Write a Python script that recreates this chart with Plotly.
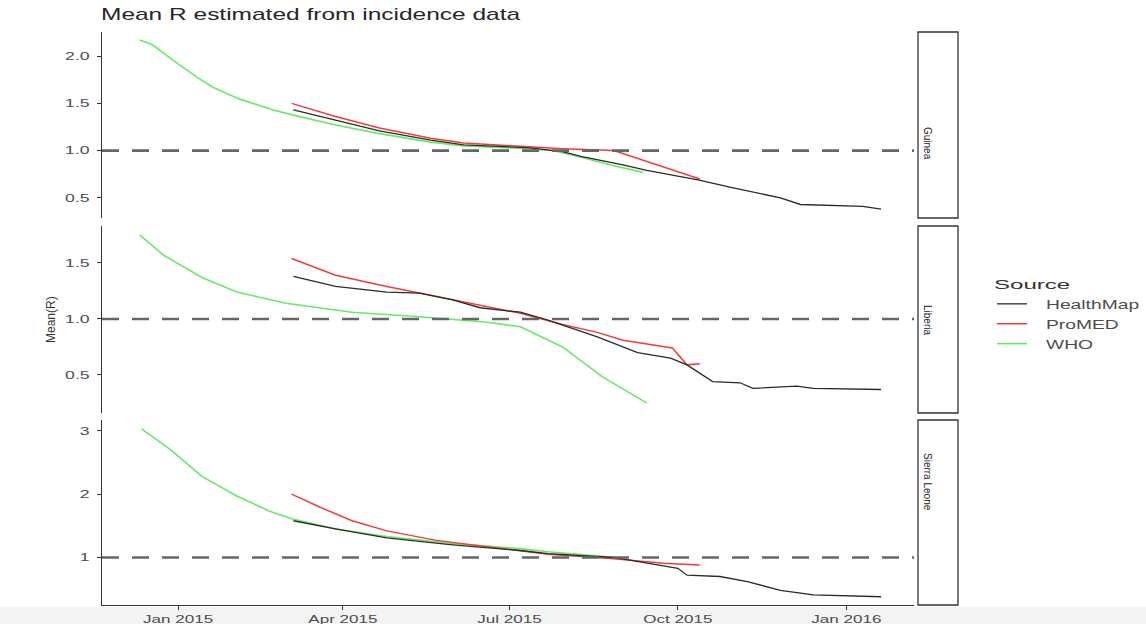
import plotly.graph_objects as go

# ---------------- data ----------------
countries = ["Guinea", "Liberia", "Sierra Leone"]
sources = ["HealthMap", "ProMED", "WHO"]

guinea_who_dates = ["2014-12-11", "2014-12-18", "2014-12-29", "2015-01-11", "2015-01-20", "2015-02-03",
                    "2015-02-22", "2015-03-06", "2015-03-28", "2015-04-21", "2015-05-19", "2015-06-06",
                    "2015-07-12", "2015-07-25", "2015-08-05", "2015-08-27", "2015-09-12"]
guinea_who_vals = [2.17, 2.12, 1.96, 1.78, 1.67, 1.55, 1.43, 1.37, 1.27, 1.18, 1.09, 1.05,
                   1.02, 1.00, 0.95, 0.84, 0.77]

guinea_hm_dates = ["2015-03-05", "2015-03-28", "2015-04-21", "2015-05-19", "2015-06-06", "2015-07-12",
                   "2015-07-30", "2015-08-09", "2015-09-01", "2015-09-14", "2015-10-01", "2015-10-12",
                   "2015-10-30", "2015-11-11", "2015-11-26", "2015-12-07", "2015-12-23", "2016-01-10",
                   "2016-01-20"]
guinea_hm_vals = [1.43, 1.32, 1.21, 1.11, 1.06, 1.03, 0.99, 0.94, 0.85, 0.79, 0.73, 0.69,
                  0.61, 0.56, 0.50, 0.43, 0.42, 0.41, 0.38]

guinea_pm_dates = ["2015-03-04", "2015-03-28", "2015-04-21", "2015-05-19", "2015-06-06", "2015-07-12",
                   "2015-07-30", "2015-08-27", "2015-09-23", "2015-10-13"]
guinea_pm_vals = [1.50, 1.36, 1.24, 1.13, 1.08, 1.04, 1.02, 1.00, 0.83, 0.70]

liberia_who_dates = ["2014-12-11", "2014-12-24", "2015-01-14", "2015-02-02", "2015-03-01", "2015-04-06",
                     "2015-05-13", "2015-06-19", "2015-07-07", "2015-07-30", "2015-08-21", "2015-09-14"]
liberia_who_vals = [1.75, 1.57, 1.37, 1.24, 1.14, 1.06, 1.02, 0.97, 0.93, 0.75, 0.48, 0.25]

liberia_hm_dates = ["2015-03-05", "2015-03-28", "2015-04-25", "2015-05-13", "2015-05-31", "2015-06-15",
                    "2015-07-07", "2015-07-22", "2015-08-18", "2015-09-09", "2015-09-27", "2015-10-06",
                    "2015-10-20", "2015-11-04", "2015-11-11", "2015-12-05", "2015-12-14", "2016-01-20"]
liberia_hm_vals = [1.38, 1.29, 1.24, 1.23, 1.17, 1.10, 1.06, 0.99, 0.84, 0.70, 0.65, 0.59,
                   0.44, 0.43, 0.38, 0.40, 0.38, 0.37]

liberia_pm_dates = ["2015-03-04", "2015-03-28", "2015-04-25", "2015-05-31", "2015-07-07", "2015-07-30",
                    "2015-08-18", "2015-09-01", "2015-09-28", "2015-10-06", "2015-10-13"]
liberia_pm_vals = [1.54, 1.39, 1.29, 1.17, 1.05, 0.95, 0.88, 0.81, 0.74, 0.59, 0.60]

sierra_who_dates = ["2014-12-12", "2014-12-28", "2015-01-14", "2015-02-02", "2015-02-20", "2015-03-04",
                    "2015-03-28", "2015-04-25", "2015-05-31", "2015-07-07", "2015-07-22", "2015-08-27",
                    "2015-09-01"]
sierra_who_vals = [3.03, 2.70, 2.28, 1.97, 1.73, 1.61, 1.45, 1.33, 1.22, 1.14, 1.09, 1.00, 0.99]

sierra_hm_dates = ["2015-03-05", "2015-03-28", "2015-04-25", "2015-05-31", "2015-07-07", "2015-07-22",
                   "2015-08-27", "2015-09-14", "2015-10-01", "2015-10-06", "2015-10-24", "2015-11-08",
                   "2015-11-26", "2015-12-14", "2016-01-01", "2016-01-20"]
sierra_hm_vals = [1.58, 1.45, 1.31, 1.20, 1.11, 1.06, 1.00, 0.91, 0.83, 0.72, 0.70, 0.62,
                  0.48, 0.41, 0.40, 0.38]

sierra_pm_dates = ["2015-03-04", "2015-03-19", "2015-04-06", "2015-04-25", "2015-05-22", "2015-06-19",
                   "2015-07-07", "2015-07-22", "2015-08-27", "2015-09-23", "2015-10-13"]
sierra_pm_vals = [2.00, 1.80, 1.58, 1.42, 1.27, 1.17, 1.10, 1.05, 0.98, 0.91, 0.88]

y_ranges = [[0.287, 2.255], [0.16, 1.83], [0.25, 3.17]]
y_ticks = [[0.5, 1.0, 1.5, 2.0], [0.5, 1.0, 1.5], [1, 2, 3]]
y_ticktext = [["0.5", "1.0", "1.5", "2.0"], ["0.5", "1.0", "1.5"], ["1", "2", "3"]]
x_tickvals = ["2015-01-01", "2015-04-01", "2015-07-01", "2015-10-01", "2016-01-01"]
x_ticktext = ["Jan 2015", "Apr 2015", "Jul 2015", "Oct 2015", "Jan 2016"]
x_range = ["2014-11-20 10:00", "2016-02-07"]

series = {
    "Guinea": {"HealthMap": (guinea_hm_dates, guinea_hm_vals),
               "ProMED": (guinea_pm_dates, guinea_pm_vals),
               "WHO": (guinea_who_dates, guinea_who_vals)},
    "Liberia": {"HealthMap": (liberia_hm_dates, liberia_hm_vals),
                "ProMED": (liberia_pm_dates, liberia_pm_vals),
                "WHO": (liberia_who_dates, liberia_who_vals)},
    "Sierra Leone": {"HealthMap": (sierra_hm_dates, sierra_hm_vals),
                     "ProMED": (sierra_pm_dates, sierra_pm_vals),
                     "WHO": (sierra_who_dates, sierra_who_vals)},
}

colors = {"HealthMap": "#2a2a2a", "ProMED": "#f23c3c", "WHO": "#66ea66"}
widths = {"HealthMap": 1.3, "ProMED": 1.5, "WHO": 1.6}

# ---------------- layout geometry ----------------
W, H = 1146, 624
x_dom = [102 / W, 914 / W]
panel_px = [(32, 218), (226, 413), (420, 605)]
y_doms = [[1 - b / H, 1 - t / H] for t, b in panel_px]

FONT = "Liberation Sans, Arial, sans-serif"
fig = go.Figure()

draw_order = ["WHO", "ProMED", "HealthMap"]
for i, c in enumerate(countries):
    xa = "x" if i == 0 else f"x{i+1}"
    ya = "y" if i == 0 else f"y{i+1}"
    for s in draw_order:
        d, v = series[c][s]
        fig.add_trace(go.Scatter(
            x=d, y=v, mode="lines", name=s, legendgroup=s,
            showlegend=(i == 0), xaxis=xa, yaxis=ya,
            legendrank={"HealthMap": 1, "ProMED": 2, "WHO": 3}[s],
            line=dict(color=colors[s], width=widths[s]),
        ))

layout = dict(
    width=W, height=H,
    margin=dict(l=0, r=0, t=0, b=0),
    paper_bgcolor="white", plot_bgcolor="white",
    font=dict(family=FONT, color="#4d4d4d"),
    title=dict(text="Mean R estimated from incidence data", x=101 / W, xanchor="left",
               y=1 - 14 / H, yanchor="middle", font=dict(size=17, color="#262626", family=FONT)),
    legend=dict(title=dict(text="Source", font=dict(size=13, color="#333333")),
                x=992 / W, y=1 - 272 / H, xanchor="left", yanchor="top",
                font=dict(size=13, color="#4d4d4d"), bgcolor="rgba(0,0,0,0)",
                tracegroupgap=0, itemwidth=30),
    showlegend=True,
)

for i in range(3):
    xk = "xaxis" if i == 0 else f"xaxis{i+1}"
    yk = "yaxis" if i == 0 else f"yaxis{i+1}"
    ya = "y" if i == 0 else f"y{i+1}"
    xa = "x" if i == 0 else f"x{i+1}"
    bottom = (i == 2)
    layout[xk] = dict(
        domain=x_dom, anchor=ya, type="date", range=x_range,
        tickvals=x_tickvals, ticktext=x_ticktext,
        showticklabels=bottom, ticks="outside" if bottom else "",
        ticklen=4, tickcolor="#333333", tickfont=dict(size=11, color="#4d4d4d"),
        ticklabelstandoff=0,
        showline=bottom, linecolor="#333333", linewidth=1.4,
        showgrid=False, zeroline=False, automargin=False,
    )
    layout[yk] = dict(
        domain=y_doms[i], anchor=xa, range=y_ranges[i],
        tickvals=y_ticks[i], ticktext=y_ticktext[i],
        ticks="outside", ticklen=4, tickcolor="#333333",
        tickfont=dict(size=11, color="#4d4d4d"), ticklabelstandoff=5,
        showline=True, linecolor="#333333", linewidth=1.4,
        showgrid=False, zeroline=False, automargin=False,
    )

shapes = []
annotations = []
for i, c in enumerate(countries):
    xa = "x" if i == 0 else f"x{i+1}"
    ya = "y" if i == 0 else f"y{i+1}"
    shapes.append(dict(type="line", xref=f"{xa} domain", yref=ya, x0=0, x1=1, y0=1, y1=1,
                       line=dict(color="#666666", width=2.6, dash="17px,13px"), layer="above"))
    shapes.append(dict(type="rect", xref="paper", yref="paper",
                       x0=918 / W, x1=958 / W, y0=y_doms[i][0], y1=y_doms[i][1],
                       line=dict(color="#333333", width=1.3), fillcolor="white"))
    annotations.append(dict(text=c, xref="paper", yref="paper", x=935 / W,
                            y=(y_doms[i][0] + y_doms[i][1]) / 2, showarrow=False, textangle=90,
                            font=dict(size=10, color="#1a1a1a", family=FONT)))

shapes.append(dict(type="rect", xref="paper", yref="paper", x0=0, x1=1, y0=0, y1=17 / H,
                   line=dict(width=0), fillcolor="#f3f3f3", layer="below"))

annotations.append(dict(text="Mean(R)", xref="paper", yref="paper", x=42 / W, y=1 - 320 / H,
                        showarrow=False, textangle=-90, font=dict(size=12, color="#333333", family=FONT)))

layout["shapes"] = shapes
layout["annotations"] = annotations
fig.update_layout(**layout)

# the reference text is drawn horizontally widened; widen the real SVG text to match
post = """
var gd = document.getElementById('{plot_id}');
function st(sel, f, dx){
  gd.querySelectorAll(sel).forEach(function(t){
    var L = t.getComputedTextLength();
    if (L > 0) { t.setAttribute('textLength', (L*f).toFixed(1)); t.setAttribute('lengthAdjust', 'spacingAndGlyphs'); }
    if (dx) { t.setAttribute('x', parseFloat(t.getAttribute('x') || 0) + dx); }
  });
}
st('.xtick text, .x2tick text, .x3tick text', 1.55, 0);
st('.ytick text, .y2tick text, .y3tick text', 1.6, 0);
st('.gtitle', 1.44, 0);
st('.legendtext', 1.48, 14);
st('.legendtitletext', 1.85, 0);
gd.querySelectorAll('.legend .scrollbox, .legend').forEach(function(e){ e.removeAttribute('clip-path'); });
"""
fig.write_html("out.html", post_script=post)
